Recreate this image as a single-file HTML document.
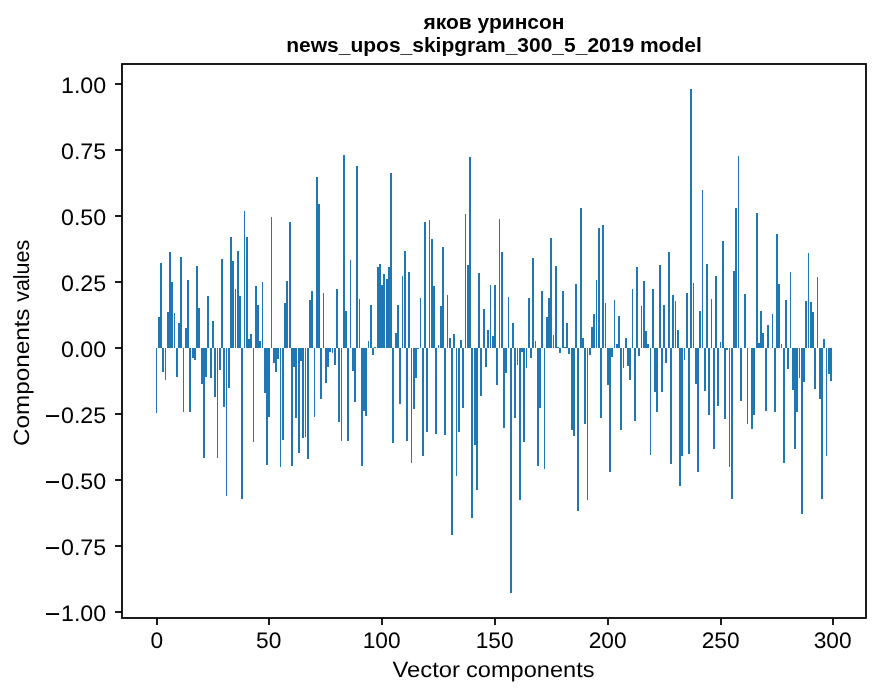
<!DOCTYPE html>
<html><head><meta charset="utf-8"><style>
html,body{margin:0;padding:0;background:#fff;}
svg{display:block;will-change:transform;}
text{font-family:"Liberation Sans",sans-serif;fill:#000;}
</style></head><body>
<svg width="880" height="696" viewBox="0 0 880 696">
<rect x="0" y="0" width="880" height="696" fill="#fff"/>
<g fill="#1f77b4" shape-rendering="crispEdges">
<rect x="156" y="348" width="1" height="65"/><rect x="158" y="317" width="2" height="31"/><rect x="160" y="263" width="2" height="85"/><rect x="162" y="348" width="2" height="24"/><rect x="165" y="348" width="1" height="32"/><rect x="167" y="312" width="2" height="36"/><rect x="169" y="252" width="2" height="96"/><rect x="171" y="282" width="2" height="66"/><rect x="174" y="313" width="1" height="35"/><rect x="176" y="348" width="2" height="29"/><rect x="178" y="323" width="2" height="25"/><rect x="180" y="257" width="2" height="91"/><rect x="183" y="348" width="1" height="64"/><rect x="185" y="328" width="2" height="20"/><rect x="187" y="280" width="2" height="68"/><rect x="189" y="348" width="2" height="64"/><rect x="192" y="348" width="2" height="10"/><rect x="194" y="348" width="2" height="12"/><rect x="196" y="266" width="2" height="82"/><rect x="198" y="308" width="2" height="40"/><rect x="201" y="348" width="2" height="36"/><rect x="203" y="348" width="2" height="110"/><rect x="205" y="348" width="2" height="29"/><rect x="207" y="296" width="2" height="52"/><rect x="210" y="348" width="2" height="30"/><rect x="212" y="321" width="2" height="27"/><rect x="214" y="348" width="2" height="49"/><rect x="217" y="348" width="1" height="110"/><rect x="219" y="348" width="2" height="22"/><rect x="221" y="259" width="2" height="89"/><rect x="223" y="348" width="2" height="59"/><rect x="226" y="348" width="1" height="148"/><rect x="228" y="348" width="2" height="40"/><rect x="230" y="237" width="2" height="111"/><rect x="232" y="261" width="2" height="87"/><rect x="235" y="289" width="1" height="59"/><rect x="237" y="251" width="2" height="97"/><rect x="239" y="296" width="2" height="52"/><rect x="241" y="348" width="2" height="151"/><rect x="244" y="211" width="1" height="137"/><rect x="246" y="237" width="2" height="111"/><rect x="248" y="339" width="2" height="9"/><rect x="250" y="334" width="2" height="14"/><rect x="253" y="348" width="1" height="94"/><rect x="255" y="286" width="2" height="62"/><rect x="257" y="305" width="2" height="43"/><rect x="259" y="341" width="2" height="7"/><rect x="262" y="282" width="1" height="66"/><rect x="264" y="348" width="2" height="45"/><rect x="266" y="348" width="2" height="117"/><rect x="268" y="348" width="2" height="69"/><rect x="271" y="217" width="1" height="131"/><rect x="273" y="348" width="2" height="15"/><rect x="275" y="348" width="2" height="24"/><rect x="277" y="348" width="2" height="11"/><rect x="280" y="348" width="1" height="119"/><rect x="282" y="348" width="2" height="92"/><rect x="284" y="303" width="2" height="45"/><rect x="286" y="281" width="2" height="67"/><rect x="289" y="222" width="2" height="126"/><rect x="291" y="348" width="2" height="118"/><rect x="293" y="348" width="2" height="19"/><rect x="295" y="348" width="2" height="70"/><rect x="298" y="348" width="2" height="105"/><rect x="300" y="348" width="2" height="13"/><rect x="302" y="348" width="2" height="90"/><rect x="305" y="348" width="1" height="89"/><rect x="307" y="348" width="2" height="111"/><rect x="309" y="300" width="2" height="48"/><rect x="311" y="291" width="2" height="57"/><rect x="314" y="348" width="1" height="69"/><rect x="316" y="177" width="2" height="171"/><rect x="318" y="204" width="2" height="144"/><rect x="320" y="348" width="2" height="51"/><rect x="323" y="293" width="1" height="55"/><rect x="325" y="348" width="2" height="35"/><rect x="327" y="348" width="2" height="19"/><rect x="329" y="348" width="2" height="4"/><rect x="332" y="348" width="1" height="5"/><rect x="334" y="348" width="2" height="17"/><rect x="336" y="289" width="2" height="59"/><rect x="338" y="348" width="2" height="74"/><rect x="341" y="348" width="1" height="93"/><rect x="343" y="155" width="2" height="193"/><rect x="345" y="311" width="2" height="37"/><rect x="347" y="348" width="2" height="93"/><rect x="350" y="260" width="1" height="88"/><rect x="352" y="348" width="2" height="23"/><rect x="354" y="348" width="2" height="54"/><rect x="356" y="166" width="2" height="182"/><rect x="359" y="299" width="1" height="49"/><rect x="361" y="348" width="2" height="118"/><rect x="363" y="348" width="2" height="63"/><rect x="365" y="348" width="2" height="68"/><rect x="368" y="341" width="1" height="7"/><rect x="370" y="305" width="2" height="43"/><rect x="372" y="348" width="2" height="7"/><rect x="374" y="347" width="2" height="1"/><rect x="377" y="267" width="2" height="81"/><rect x="379" y="264" width="2" height="84"/><rect x="381" y="285" width="2" height="63"/><rect x="383" y="274" width="2" height="74"/><rect x="386" y="279" width="2" height="69"/><rect x="388" y="267" width="2" height="81"/><rect x="390" y="173" width="2" height="175"/><rect x="392" y="348" width="2" height="95"/><rect x="395" y="333" width="2" height="15"/><rect x="397" y="305" width="2" height="43"/><rect x="399" y="348" width="2" height="56"/><rect x="402" y="276" width="1" height="72"/><rect x="404" y="251" width="2" height="97"/><rect x="406" y="348" width="2" height="93"/><rect x="408" y="272" width="2" height="76"/><rect x="411" y="348" width="1" height="115"/><rect x="413" y="348" width="2" height="61"/><rect x="415" y="348" width="2" height="30"/><rect x="417" y="348" width="2" height="1"/><rect x="420" y="298" width="1" height="50"/><rect x="422" y="348" width="2" height="108"/><rect x="424" y="222" width="2" height="126"/><rect x="426" y="348" width="2" height="84"/><rect x="429" y="220" width="1" height="128"/><rect x="431" y="239" width="2" height="109"/><rect x="433" y="286" width="2" height="62"/><rect x="435" y="348" width="2" height="86"/><rect x="438" y="345" width="1" height="3"/><rect x="440" y="306" width="2" height="42"/><rect x="442" y="247" width="2" height="101"/><rect x="444" y="348" width="2" height="87"/><rect x="447" y="295" width="1" height="53"/><rect x="449" y="338" width="2" height="10"/><rect x="451" y="348" width="2" height="187"/><rect x="453" y="334" width="2" height="14"/><rect x="456" y="348" width="1" height="128"/><rect x="458" y="348" width="2" height="84"/><rect x="460" y="340" width="2" height="8"/><rect x="462" y="348" width="2" height="60"/><rect x="465" y="214" width="1" height="134"/><rect x="467" y="265" width="2" height="83"/><rect x="469" y="157" width="2" height="191"/><rect x="471" y="348" width="2" height="170"/><rect x="474" y="348" width="2" height="97"/><rect x="476" y="348" width="2" height="142"/><rect x="478" y="273" width="2" height="75"/><rect x="480" y="348" width="2" height="48"/><rect x="483" y="309" width="2" height="39"/><rect x="485" y="348" width="2" height="19"/><rect x="487" y="330" width="2" height="18"/><rect x="490" y="285" width="1" height="63"/><rect x="492" y="336" width="2" height="12"/><rect x="494" y="285" width="2" height="63"/><rect x="496" y="348" width="2" height="37"/><rect x="499" y="219" width="1" height="129"/><rect x="501" y="252" width="2" height="96"/><rect x="503" y="348" width="2" height="80"/><rect x="505" y="348" width="2" height="25"/><rect x="508" y="297" width="1" height="51"/><rect x="510" y="348" width="2" height="245"/><rect x="512" y="323" width="2" height="25"/><rect x="514" y="348" width="2" height="70"/><rect x="517" y="348" width="1" height="17"/><rect x="519" y="348" width="2" height="152"/><rect x="521" y="348" width="2" height="4"/><rect x="523" y="348" width="2" height="94"/><rect x="526" y="348" width="1" height="20"/><rect x="528" y="298" width="2" height="50"/><rect x="530" y="348" width="2" height="10"/><rect x="532" y="258" width="2" height="90"/><rect x="535" y="341" width="1" height="7"/><rect x="537" y="348" width="2" height="118"/><rect x="539" y="348" width="2" height="60"/><rect x="541" y="291" width="2" height="57"/><rect x="544" y="348" width="1" height="121"/><rect x="546" y="317" width="2" height="31"/><rect x="548" y="298" width="2" height="50"/><rect x="550" y="238" width="2" height="110"/><rect x="553" y="335" width="1" height="13"/><rect x="555" y="266" width="2" height="82"/><rect x="557" y="347" width="2" height="1"/><rect x="559" y="348" width="2" height="5"/><rect x="562" y="291" width="2" height="57"/><rect x="564" y="347" width="2" height="1"/><rect x="566" y="323" width="2" height="25"/><rect x="568" y="348" width="2" height="6"/><rect x="571" y="348" width="2" height="82"/><rect x="573" y="348" width="2" height="88"/><rect x="575" y="284" width="2" height="64"/><rect x="577" y="348" width="2" height="163"/><rect x="580" y="208" width="2" height="140"/><rect x="582" y="338" width="2" height="10"/><rect x="584" y="348" width="2" height="76"/><rect x="587" y="348" width="1" height="152"/><rect x="589" y="348" width="2" height="7"/><rect x="591" y="327" width="2" height="21"/><rect x="593" y="314" width="2" height="34"/><rect x="596" y="280" width="1" height="68"/><rect x="598" y="228" width="2" height="120"/><rect x="600" y="348" width="2" height="70"/><rect x="602" y="225" width="2" height="123"/><rect x="605" y="303" width="1" height="45"/><rect x="607" y="348" width="2" height="37"/><rect x="609" y="348" width="2" height="124"/><rect x="611" y="348" width="2" height="9"/><rect x="614" y="300" width="1" height="48"/><rect x="616" y="344" width="2" height="4"/><rect x="618" y="316" width="2" height="32"/><rect x="620" y="348" width="2" height="82"/><rect x="623" y="348" width="1" height="20"/><rect x="625" y="338" width="2" height="10"/><rect x="627" y="348" width="2" height="18"/><rect x="629" y="348" width="2" height="32"/><rect x="632" y="289" width="1" height="59"/><rect x="634" y="348" width="2" height="73"/><rect x="636" y="267" width="2" height="81"/><rect x="638" y="348" width="2" height="8"/><rect x="641" y="306" width="1" height="42"/><rect x="643" y="281" width="2" height="67"/><rect x="645" y="331" width="2" height="17"/><rect x="647" y="344" width="2" height="4"/><rect x="650" y="348" width="1" height="107"/><rect x="652" y="289" width="2" height="59"/><rect x="654" y="348" width="2" height="44"/><rect x="656" y="348" width="2" height="64"/><rect x="659" y="265" width="2" height="83"/><rect x="661" y="348" width="2" height="44"/><rect x="663" y="305" width="2" height="43"/><rect x="665" y="348" width="2" height="15"/><rect x="668" y="252" width="2" height="96"/><rect x="670" y="348" width="2" height="116"/><rect x="672" y="295" width="2" height="53"/><rect x="675" y="301" width="1" height="47"/><rect x="677" y="330" width="2" height="18"/><rect x="679" y="348" width="2" height="138"/><rect x="681" y="348" width="2" height="108"/><rect x="684" y="348" width="1" height="12"/><rect x="686" y="293" width="2" height="55"/><rect x="688" y="348" width="2" height="106"/><rect x="690" y="89" width="2" height="259"/><rect x="693" y="283" width="1" height="65"/><rect x="695" y="348" width="2" height="36"/><rect x="697" y="348" width="2" height="124"/><rect x="699" y="311" width="2" height="37"/><rect x="702" y="190" width="1" height="158"/><rect x="704" y="348" width="2" height="43"/><rect x="706" y="264" width="2" height="84"/><rect x="708" y="348" width="2" height="67"/><rect x="711" y="299" width="1" height="49"/><rect x="713" y="348" width="2" height="101"/><rect x="715" y="276" width="2" height="72"/><rect x="717" y="348" width="2" height="58"/><rect x="720" y="342" width="1" height="6"/><rect x="722" y="241" width="2" height="107"/><rect x="724" y="348" width="2" height="71"/><rect x="726" y="348" width="2" height="2"/><rect x="729" y="348" width="1" height="119"/><rect x="731" y="348" width="2" height="151"/><rect x="733" y="271" width="2" height="77"/><rect x="735" y="208" width="2" height="140"/><rect x="738" y="156" width="1" height="192"/><rect x="740" y="348" width="2" height="53"/><rect x="744" y="294" width="2" height="54"/><rect x="747" y="348" width="1" height="76"/><rect x="751" y="348" width="2" height="81"/><rect x="753" y="348" width="2" height="67"/><rect x="756" y="213" width="2" height="135"/><rect x="758" y="343" width="2" height="5"/><rect x="760" y="311" width="2" height="37"/><rect x="762" y="333" width="2" height="15"/><rect x="765" y="348" width="2" height="63"/><rect x="767" y="325" width="2" height="23"/><rect x="772" y="314" width="1" height="34"/><rect x="774" y="348" width="2" height="64"/><rect x="776" y="234" width="2" height="114"/><rect x="778" y="284" width="2" height="64"/><rect x="781" y="344" width="1" height="4"/><rect x="783" y="348" width="2" height="115"/><rect x="785" y="300" width="2" height="48"/><rect x="787" y="348" width="2" height="21"/><rect x="790" y="272" width="1" height="76"/><rect x="792" y="348" width="2" height="42"/><rect x="794" y="348" width="2" height="101"/><rect x="796" y="348" width="2" height="64"/><rect x="799" y="348" width="1" height="30"/><rect x="801" y="348" width="2" height="166"/><rect x="803" y="348" width="2" height="34"/><rect x="805" y="301" width="2" height="47"/><rect x="808" y="253" width="1" height="95"/><rect x="810" y="302" width="2" height="46"/><rect x="812" y="312" width="2" height="36"/><rect x="814" y="348" width="2" height="41"/><rect x="817" y="277" width="1" height="71"/><rect x="819" y="348" width="2" height="51"/><rect x="821" y="348" width="2" height="151"/><rect x="823" y="339" width="2" height="9"/><rect x="826" y="348" width="1" height="108"/><rect x="828" y="348" width="2" height="26"/><rect x="830" y="348" width="2" height="33"/>
</g>
<rect x="122" y="64" width="744" height="554" fill="none" stroke="#000" stroke-width="1.78" stroke-linejoin="miter"/>
<g stroke="#000" stroke-width="1.78">
<line x1="115" y1="84" x2="122" y2="84"/><line x1="115" y1="150" x2="122" y2="150"/><line x1="115" y1="216" x2="122" y2="216"/><line x1="115" y1="282" x2="122" y2="282"/><line x1="115" y1="348" x2="122" y2="348"/><line x1="115" y1="414" x2="122" y2="414"/><line x1="115" y1="480" x2="122" y2="480"/><line x1="115" y1="546" x2="122" y2="546"/><line x1="115" y1="612" x2="122" y2="612"/><line x1="157" y1="618" x2="157" y2="625"/><line x1="269" y1="618" x2="269" y2="625"/><line x1="382" y1="618" x2="382" y2="625"/><line x1="495" y1="618" x2="495" y2="625"/><line x1="608" y1="618" x2="608" y2="625"/><line x1="721" y1="618" x2="721" y2="625"/><line x1="833" y1="618" x2="833" y2="625"/>
</g>
<g font-size="22.4" text-rendering="geometricPrecision">
<text x="106.20" y="92.80" text-anchor="end" textLength="45.2" lengthAdjust="spacingAndGlyphs">1.00</text><text x="106.20" y="158.80" text-anchor="end" textLength="45.2" lengthAdjust="spacingAndGlyphs">0.75</text><text x="106.20" y="224.80" text-anchor="end" textLength="45.2" lengthAdjust="spacingAndGlyphs">0.50</text><text x="106.20" y="290.80" text-anchor="end" textLength="45.2" lengthAdjust="spacingAndGlyphs">0.25</text><text x="106.20" y="356.80" text-anchor="end" textLength="45.2" lengthAdjust="spacingAndGlyphs">0.00</text><rect x="46.0" y="415.10" width="13.1" height="1.9" fill="#000"/><text x="106.20" y="422.80" text-anchor="end" textLength="45.2" lengthAdjust="spacingAndGlyphs">0.25</text><rect x="46.0" y="481.10" width="13.1" height="1.9" fill="#000"/><text x="106.20" y="488.80" text-anchor="end" textLength="45.2" lengthAdjust="spacingAndGlyphs">0.50</text><rect x="46.0" y="547.10" width="13.1" height="1.9" fill="#000"/><text x="106.20" y="554.80" text-anchor="end" textLength="45.2" lengthAdjust="spacingAndGlyphs">0.75</text><rect x="46.0" y="613.10" width="13.1" height="1.9" fill="#000"/><text x="106.20" y="620.80" text-anchor="end" textLength="45.2" lengthAdjust="spacingAndGlyphs">1.00</text>
<text x="156.70" y="648.30" text-anchor="middle" textLength="12.65" lengthAdjust="spacingAndGlyphs">0</text><text x="268.70" y="648.30" text-anchor="middle" textLength="25.30" lengthAdjust="spacingAndGlyphs">50</text><text x="381.70" y="648.30" text-anchor="middle" textLength="37.95" lengthAdjust="spacingAndGlyphs">100</text><text x="494.70" y="648.30" text-anchor="middle" textLength="37.95" lengthAdjust="spacingAndGlyphs">150</text><text x="607.70" y="648.30" text-anchor="middle" textLength="37.95" lengthAdjust="spacingAndGlyphs">200</text><text x="720.70" y="648.30" text-anchor="middle" textLength="37.95" lengthAdjust="spacingAndGlyphs">250</text><text x="832.70" y="648.30" text-anchor="middle" textLength="37.95" lengthAdjust="spacingAndGlyphs">300</text>
</g>
<g font-size="22" text-rendering="geometricPrecision">
<text x="392.5" y="676.8" textLength="67.5" lengthAdjust="spacingAndGlyphs">Vector</text>
<text x="466.0" y="676.8" textLength="128.5" lengthAdjust="spacingAndGlyphs">components</text>
<text transform="translate(29.2 446.0) rotate(-90)" textLength="137.5" lengthAdjust="spacingAndGlyphs">Components</text>
<text transform="translate(29.2 301.8) rotate(-90)" textLength="62.0" lengthAdjust="spacingAndGlyphs">values</text>
</g>
<g font-size="21" font-weight="bold">
<text x="494" y="29.3" text-anchor="middle">яков уринсон</text>
<text x="494" y="51.8" text-anchor="middle">news_upos_skipgram_300_5_2019 model</text>
</g>
</svg>
</body></html>
